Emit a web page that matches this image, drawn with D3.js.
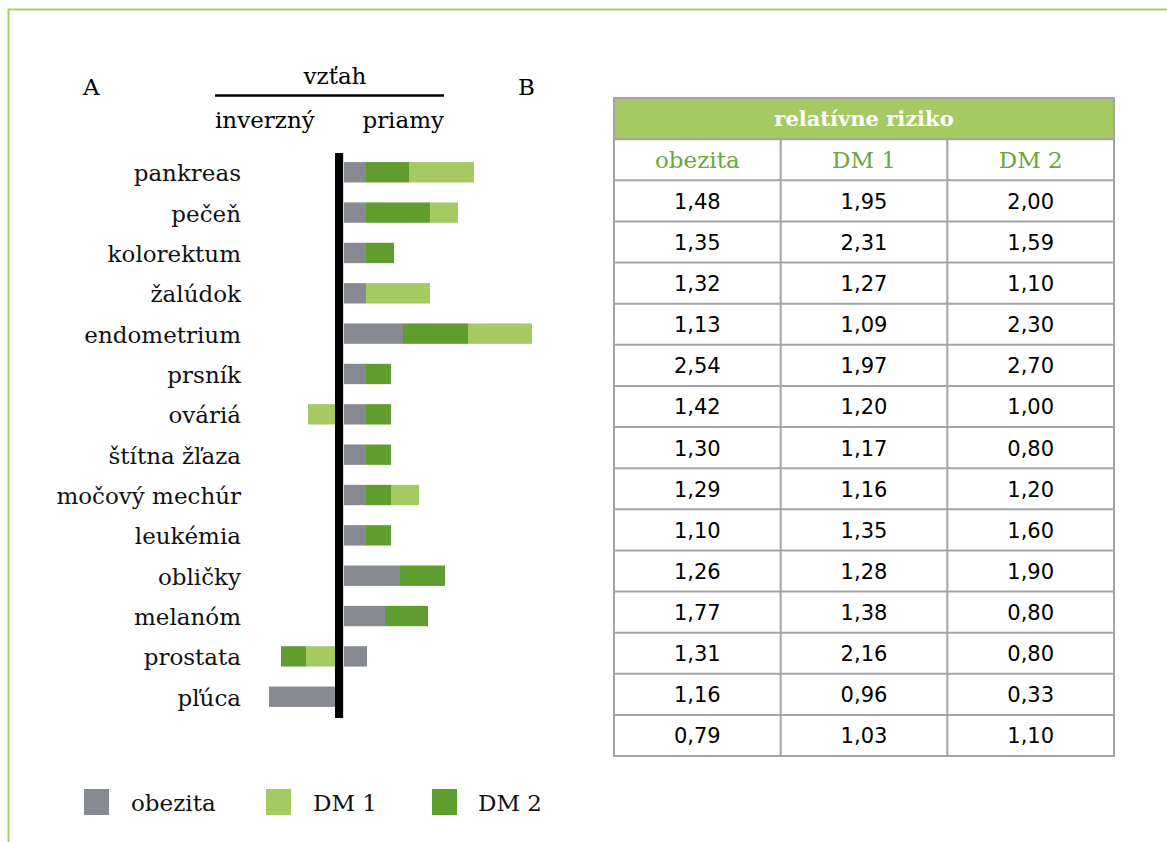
<!DOCTYPE html>
<html>
<head>
<meta charset="utf-8">
<style>
  body { margin: 0; background: #fff; }
  svg text { font-family: "DejaVu Serif", serif; }
</style>
</head>
<body>
<script src="https://d3js.org/d3.v7.min.js"></script>
<script>
// categories (left panel rows)
var organs = ["pankreas", "pečeň", "kolorektum", "žalúdok", "endometrium", "prsník", "ováriá",
              "štítna žľaza", "močový mechúr", "leukémia", "obličky", "melanóm", "prostata", "pľúca"];

// schematic bar lengths (A), negative = inverzný vzťah
var obezitaBar = [2.7, 2.7, 2.7, 2.7, 6.4, 2.7, 2.7, 2.7, 2.7, 2.7, 6.1, 4.6, 2.8, -7.0];
var dm1Bar     = [6.5, 2.8, 0, 6.4, 6.4, 0, -3.1, 0, 2.8, 0, 0, 0, -3.3, 0];
var dm2Bar     = [4.3, 6.4, 2.8, 0, 6.5, 2.5, 2.5, 2.5, 2.5, 2.5, 4.5, 4.3, -2.5, 0];

// relative risk table (B)
var tableTitle = "relatívne riziko";
var tableCols = ["obezita", "DM 1", "DM 2"];
var obezitaRR = ["1,48", "1,35", "1,32", "1,13", "2,54", "1,42", "1,30", "1,29", "1,10", "1,26", "1,77", "1,31", "1,16", "0,79"];
var dm1RR     = ["1,95", "2,31", "1,27", "1,09", "1,97", "1,20", "1,17", "1,16", "1,35", "1,28", "1,38", "2,16", "0,96", "1,03"];
var dm2RR     = ["2,00", "1,59", "1,10", "2,30", "2,70", "1,00", "0,80", "1,20", "1,60", "1,90", "0,80", "0,80", "0,33", "1,10"];

var colors = { obezita: "#878a91", dm1: "#a5c963", dm2: "#619c2e" };

var svg = d3.select("body").append("svg")
    .attr("width", 1167)
    .attr("height", 842);

// frame
svg.append("line").attr("x1", 8).attr("x2", 1167).attr("y1", 9.5).attr("y2", 9.5)
    .attr("stroke", "#a9cf6c").attr("stroke-width", 2);
svg.append("line").attr("x1", 8.5).attr("x2", 8.5).attr("y1", 9).attr("y2", 842)
    .attr("stroke", "#a9cf6c").attr("stroke-width", 2);

// ---- panel A ----
var x = d3.scaleLinear().domain([-8, 20]).range([259, 539]);
var y = d3.scaleBand().domain(organs).range([152, 717]).paddingInner(0.495).paddingOuter(0.25);

// build segments: positive side obezita, DM2, DM1 ; negative side obezita, DM1, DM2
var segs = [];
organs.forEach(function (o, i) {
    var pos = 0, neg = 0;
    [["obezita", obezitaBar[i]], ["dm2", dm2Bar[i]], ["dm1", dm1Bar[i]]].forEach(function (s) {
        if (s[1] > 0) { segs.push({ organ: o, key: s[0], x0: pos, x1: pos + s[1] }); pos += s[1]; }
    });
    [["obezita", obezitaBar[i]], ["dm1", dm1Bar[i]], ["dm2", dm2Bar[i]]].forEach(function (s) {
        if (s[1] < 0) { segs.push({ organ: o, key: s[0], x0: neg + s[1], x1: neg }); neg += s[1]; }
    });
});

svg.append("g").selectAll("rect")
    .data(segs)
    .enter()
    .append("rect")
    .attr("x", function (d) { return x(d.x0); })
    .attr("width", function (d) { return x(d.x1) - x(d.x0); })
    .attr("y", function (d) { return y(d.organ); })
    .attr("height", y.bandwidth())
    .attr("fill", function (d) { return colors[d.key]; });

// axis bar
svg.append("rect").attr("x", x(0) - 4).attr("y", 153).attr("width", 8).attr("height", 565).attr("fill", "#000");
svg.append("line").attr("x1", x(0) + 4.5).attr("x2", x(0) + 4.5).attr("y1", 153).attr("y2", 718)
    .attr("stroke", "#d8d8d8").attr("stroke-width", 1);

// row labels
svg.append("g").selectAll("text")
    .data(organs)
    .enter()
    .append("text")
    .attr("x", 241)
    .attr("y", function (d) { return y(d) + y.bandwidth() / 2 + 9; })
    .attr("text-anchor", "end")
    .attr("font-size", "23px")
    .attr("fill", "#111")
    .text(function (d) { return d; });

// header of panel A
svg.append("text").attr("x", 83).attr("y", 95).attr("font-size", "23px").text("A");
svg.append("text").attr("x", 518).attr("y", 95).attr("font-size", "23px").text("B");
svg.append("text").attr("x", 335).attr("y", 84).attr("text-anchor", "middle").attr("font-size", "23px").text("vzťah");
svg.append("line").attr("x1", 215).attr("x2", 444).attr("y1", 95.5).attr("y2", 95.5)
    .attr("stroke", "#000").attr("stroke-width", 2.5);
svg.append("text").attr("x", 215).attr("y", 128).attr("font-size", "23px").text("inverzný");
svg.append("text").attr("x", 444).attr("y", 128).attr("text-anchor", "end").attr("font-size", "23px").text("priamy");

// legend
var legendItems = [["obezita", "obezita", 84, 131], ["dm1", "DM 1", 266, 313], ["dm2", "DM 2", 432, 478]];
var lg = svg.append("g").selectAll("g").data(legendItems).enter().append("g");
lg.append("rect").attr("x", function (d) { return d[2]; }).attr("y", 789)
    .attr("width", 25).attr("height", 26).attr("fill", function (d) { return colors[d[0]]; });
lg.append("text").attr("x", function (d) { return d[3]; }).attr("y", 811)
    .attr("font-size", "23px").attr("fill", "#111").text(function (d) { return d[1]; });

// ---- panel B: table ----
var tx = d3.scaleBand().domain(tableCols).range([614, 1114]);
var ty = d3.scaleBand().domain(d3.range(-2, obezitaRR.length)).range([98, 756]);
var rh = ty.bandwidth();
var border = "#a3a4a8";

svg.append("rect").attr("x", 614).attr("y", ty(-2)).attr("width", 500).attr("height", rh)
    .attr("fill", "#a5c963");
svg.append("text").attr("x", 864).attr("y", ty(-2) + rh / 2 + 7)
    .attr("text-anchor", "middle").attr("font-size", "21px").attr("font-weight", "bold")
    .attr("fill", "#fff").text(tableTitle);

svg.append("g").selectAll("text").data(tableCols).enter().append("text")
    .attr("x", function (d) { return tx(d) + tx.bandwidth() / 2; })
    .attr("y", ty(-1) + rh / 2 + 8)
    .attr("text-anchor", "middle").attr("font-size", "23px").attr("fill", "#66a83c")
    .text(function (d) { return d; });

var cols = [obezitaRR, dm1RR, dm2RR];
cols.forEach(function (arr, c) {
    svg.append("g").selectAll("text").data(arr).enter().append("text")
        .attr("x", tx(tableCols[c]) + tx.bandwidth() / 2)
        .attr("y", function (d, i) { return ty(i) + rh / 2 + 8; })
        .attr("text-anchor", "middle")
        .style("font-family", "'DejaVu Sans', Verdana, sans-serif")
        .attr("font-size", "21px").attr("fill", "#000")
        .text(function (d) { return d; });
});

// grid lines
svg.append("g").selectAll("line").data(d3.range(-1, obezitaRR.length)).enter().append("line")
    .attr("x1", 614).attr("x2", 1114)
    .attr("y1", function (d) { return ty(d); }).attr("y2", function (d) { return ty(d); })
    .attr("stroke", border).attr("stroke-width", 2);
svg.append("g").selectAll("line").data(tableCols.slice(1)).enter().append("line")
    .attr("x1", function (d) { return tx(d); }).attr("x2", function (d) { return tx(d); })
    .attr("y1", ty(-1)).attr("y2", 756)
    .attr("stroke", border).attr("stroke-width", 2);
svg.append("rect").attr("x", 614).attr("y", 98).attr("width", 500).attr("height", 658)
    .attr("fill", "none").attr("stroke", border).attr("stroke-width", 2);
</script>
</body>
</html>
